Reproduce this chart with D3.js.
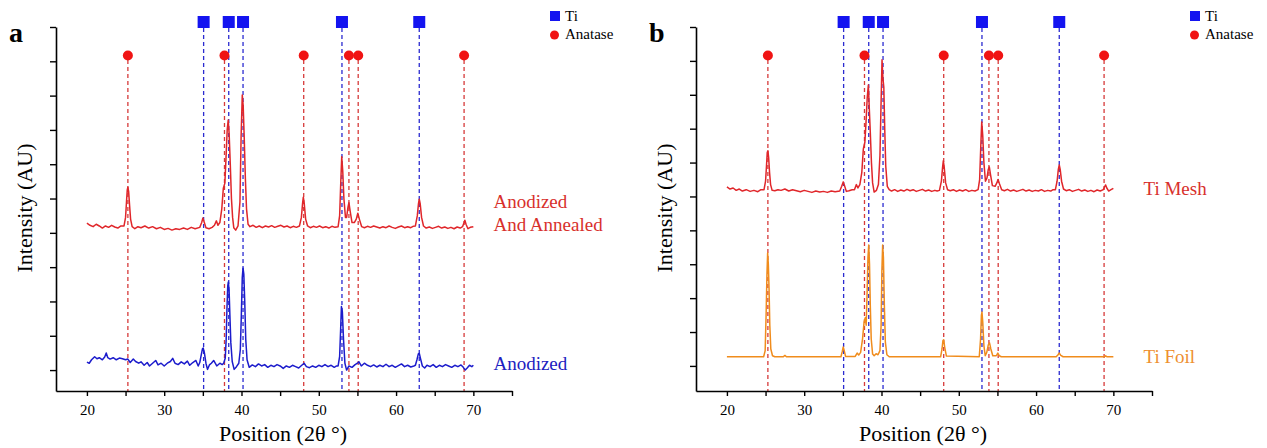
<!DOCTYPE html>
<html>
<head>
<meta charset="utf-8">
<script src="https://cdn.jsdelivr.net/npm/d3@7"></script>
<style>
  body { margin: 0; background: #fff; }
  text { font-family: "Liberation Serif", "Times New Roman", serif; }
</style>
</head>
<body>
<div id="plot"></div>
<script>
// Reference peak positions (2 theta)
var tiPeaks = [35.1, 38.35, 40.2, 53.0, 63.0];
var anatasePeaks = [25.3, 37.8, 48.05, 53.9, 55.1, 68.8];

// Axis ticks
var xTicks = [20, 25, 30, 35, 40, 45, 50, 55, 60, 65, 70, 75];
var xTickLabels = [20, 30, 40, 50, 60, 70];
var yTicks = [0, 1, 2, 3, 4, 5, 6, 7, 8, 9, 10];

// Panel a: anodized (blue) in tick units
var anodized = [
  [20,0.23],[20.3,0.2],[20.6,0.3],[21,0.39],[21.3,0.33],[21.6,0.36],[22,0.3],[22.3,0.38],[22.5,0.5],[22.7,0.36],
  [23,0.32],[23.4,0.36],[23.8,0.3],[24.2,0.35],[24.6,0.33],[25,0.3],[25.3,0.32],[25.6,0.22],[26,0.32],[26.3,0.25],
  [26.7,0.2],[27,0.24],[27.4,0.14],[27.8,0.22],[28.1,0.12],[28.5,0.2],[28.9,0.28],[29.2,0.15],[29.6,0.2],[30,0.12],
  [30.4,0.2],[30.8,0.25],[31.1,0.34],[31.4,0.2],[31.8,0.16],[32.2,0.24],[32.6,0.18],[33,0.26],[33.3,0.14],[33.7,0.22],
  [34.1,0.28],[34.4,0.12],[34.6,0.22],[34.8,0.45],[34.95,0.62],[35.05,0.64],[35.2,0.5],[35.4,0.2],[35.6,0.02],[35.85,0.15],
  [36.1,0.2],[36.4,0.28],[36.8,0.12],[37.2,0.2],[37.5,0.16],[37.7,0.2],[37.9,0.35],[38.02,0.9],[38.12,1.8],[38.22,2.45],
  [38.3,2.57],[38.4,2.3],[38.5,1.6],[38.62,0.8],[38.8,0.25],[39.05,0.02],[39.35,0.1],[39.65,0.2],[39.85,0.6],[39.98,1.6],
  [40.1,2.7],[40.2,2.97],[40.3,2.8],[40.42,2.0],[40.55,0.9],[40.72,0.3],[41,0.08],
  [41.4,0.15],[41.8,0.1],[42.2,0.18],[42.6,0.12],[43,0.16],[43.4,0.08],[43.8,0.14],[44.2,0.1],[44.6,0.16],[45,0.12],
  [45.4,0.05],[45.8,0.12],[46.2,0.08],[46.6,0.14],[47,0.1],[47.4,0.06],[47.8,0.14],[48.1,0.2],[48.4,0.1],[48.8,0.07],
  [49.2,0.12],[49.6,0.08],[50,0.14],[50.4,0.1],[50.8,0.16],[51.2,0.1],[51.6,0.14],[52,0.08],[52.3,0.12],[52.5,0.12],
  [52.7,0.4],[52.83,1.2],[52.93,1.85],[53.05,1.7],[53.2,0.9],[53.38,0.2],[53.6,0.0],[53.9,0.12],[54.3,0.08],[54.7,0.16],
  [55.0,0.2],[55.2,0.24],[55.5,0.12],[55.9,0.2],[56.3,0.14],[56.7,0.1],[57.1,0.15],[57.5,0.09],[57.9,0.14],[58.3,0.1],
  [58.7,0.17],[59.1,0.1],[59.5,0.14],[59.9,0.08],[60.3,0.13],[60.7,0.18],[61.1,0.1],[61.5,0.14],[61.9,0.09],[62.3,0.12],
  [62.5,0.14],[62.7,0.3],[62.88,0.47],[63.0,0.49],[63.15,0.35],[63.4,0.12],[63.7,0.06],[64,0.14],[64.4,0.1],[64.8,0.16],
  [65.2,0.08],[65.6,0.14],[66,0.1],[66.4,0.16],[66.8,0.12],[67.2,0.08],[67.6,0.14],[68,0.1],[68.4,0.15],[68.7,0.08],
  [68.95,0.0],[69.2,0.06],[69.5,0.14],[69.8,0.1],[70,0.14]
];

// Panel a: anodized and annealed (red)
var anodizedAnnealed = [
  [20,4.28],[20.4,4.22],[20.8,4.18],[21.2,4.25],[21.6,4.2],[22,4.14],[22.4,4.2],[22.8,4.16],[23.2,4.22],[23.6,4.17],
  [24,4.14],[24.4,4.2],[24.8,4.2],[25.0,4.45],[25.12,4.9],[25.22,5.25],[25.3,5.33],[25.4,5.2],[25.52,4.8],[25.65,4.4],
  [25.85,4.18],[26.2,4.12],[26.6,4.18],[27,4.15],[27.5,4.2],[28,4.14],[28.5,4.18],[29,4.12],[29.5,4.16],[30,4.1],
  [30.5,4.13],[31,4.08],[31.5,4.12],[32,4.1],[32.5,4.14],[33,4.1],[33.5,4.16],[34,4.12],[34.6,4.16],[34.85,4.3],
  [35.0,4.43],[35.15,4.33],[35.4,4.15],[35.8,4.12],[36.2,4.16],[36.5,4.22],[36.75,4.35],[36.95,4.22],[37.2,4.3],[37.45,4.7],
  [37.65,5.3],[37.85,5.45],[38.0,6.2],[38.15,7.0],[38.28,7.29],[38.4,6.9],[38.55,6.0],[38.7,5.0],[38.85,4.45],[39.0,4.15],
  [39.25,4.08],[39.55,4.2],[39.8,4.9],[39.95,6.8],[40.1,8.02],[40.22,7.7],[40.35,6.8],[40.5,5.6],[40.65,4.7],[40.85,4.25],
  [41.1,4.18],[41.5,4.22],[41.9,4.16],[42.3,4.2],[42.7,4.15],[43.1,4.2],[43.5,4.17],[43.9,4.21],[44.3,4.16],[44.7,4.19],
  [45.1,4.22],[45.5,4.17],[45.9,4.2],[46.3,4.15],[46.7,4.19],[47.1,4.16],[47.5,4.2],[47.75,4.45],[47.9,4.85],[48.0,5.04],
  [48.12,4.85],[48.3,4.4],[48.55,4.2],[48.9,4.15],[49.3,4.19],[49.7,4.16],[50.1,4.2],[50.5,4.15],[50.9,4.18],[51.3,4.14],
  [51.7,4.19],[52.1,4.16],[52.5,4.18],[52.7,4.5],[52.85,5.5],[52.97,6.22],[53.1,5.8],[53.25,5.0],[53.45,4.45],[53.6,4.45],
  [53.78,4.75],[53.9,4.88],[54.05,4.65],[54.3,4.3],[54.6,4.3],[54.85,4.4],[55.05,4.57],[55.25,4.4],[55.55,4.18],[55.9,4.15],
  [56.3,4.19],[56.7,4.16],[57.1,4.2],[57.5,4.17],[57.9,4.14],[58.3,4.18],[58.7,4.15],[59.1,4.2],[59.5,4.16],[59.9,4.13],
  [60.3,4.17],[60.7,4.2],[61.1,4.15],[61.5,4.18],[61.9,4.15],[62.2,4.19],[62.5,4.2],[62.75,4.5],[62.9,4.85],[63.0,4.98],
  [63.12,4.85],[63.3,4.45],[63.55,4.2],[63.9,4.14],[64.3,4.17],[64.7,4.13],[65.1,4.16],[65.5,4.19],[65.9,4.14],[66.3,4.17],
  [66.7,4.13],[67.1,4.16],[67.5,4.12],[67.9,4.17],[68.3,4.14],[68.6,4.18],[68.8,4.3],[68.9,4.37],[69.05,4.25],[69.3,4.12],
  [69.6,4.16],[70,4.18]
];

// Panel b: Ti mesh (red)
var tiMesh = [
  [20,5.28],[20.4,5.22],[20.8,5.25],[21.2,5.18],[21.6,5.22],[22,5.16],[22.5,5.2],[23,5.15],[23.5,5.18],[24,5.14],
  [24.4,5.2],[24.8,5.2],[25.0,5.45],[25.12,5.9],[25.22,6.3],[25.3,6.35],[25.4,6.15],[25.52,5.7],[25.65,5.35],[25.85,5.18],
  [26.2,5.17],[26.6,5.2],[27,5.18],[27.5,5.22],[28,5.16],[28.5,5.2],[29,5.17],[29.5,5.14],[30,5.18],[30.5,5.15],
  [31,5.12],[31.5,5.16],[32,5.13],[32.5,5.15],[33,5.12],[33.5,5.16],[34,5.14],[34.6,5.16],[34.85,5.3],[35.05,5.43],
  [35.2,5.33],[35.45,5.15],[35.8,5.17],[36.2,5.2],[36.5,5.2],[36.75,5.35],[36.95,5.25],[37.2,5.35],[37.45,5.7],[37.65,6.4],
  [37.85,6.6],[38.0,7.2],[38.15,7.9],[38.3,8.29],[38.42,7.6],[38.55,6.9],[38.7,6.0],[38.85,5.4],[39.05,5.13],[39.35,5.18],
  [39.6,5.35],[39.8,6.2],[39.95,7.8],[40.07,9.03],[40.18,8.5],[40.3,8.23],[40.42,7.0],[40.55,5.9],[40.75,5.3],[41.0,5.2],
  [41.3,5.16],[41.7,5.2],[42.1,5.15],[42.5,5.19],[42.9,5.16],[43.3,5.21],[43.7,5.17],[44.1,5.2],[44.5,5.15],[44.9,5.18],
  [45.3,5.21],[45.7,5.16],[46.1,5.19],[46.5,5.15],[46.9,5.18],[47.2,5.16],[47.5,5.18],[47.75,5.45],[47.9,5.85],[48.0,6.05],
  [48.12,5.85],[48.3,5.4],[48.55,5.2],[48.9,5.17],[49.3,5.2],[49.7,5.15],[50.1,5.19],[50.5,5.16],[50.9,5.2],[51.3,5.15],
  [51.7,5.18],[52.1,5.16],[52.5,5.2],[52.7,5.5],[52.85,6.5],[52.97,7.2],[53.1,6.8],[53.25,6.0],[53.45,5.45],[53.65,5.55],
  [53.82,5.8],[53.95,5.87],[54.1,5.65],[54.35,5.32],[54.7,5.3],[54.92,5.4],[55.08,5.5],[55.25,5.38],[55.55,5.2],[55.9,5.17],
  [56.3,5.21],[56.7,5.16],[57.1,5.19],[57.5,5.15],[57.9,5.18],[58.3,5.21],[58.7,5.16],[59.1,5.19],[59.5,5.15],[59.9,5.18],
  [60.3,5.16],[60.7,5.2],[61.1,5.15],[61.5,5.18],[61.9,5.16],[62.2,5.2],[62.5,5.2],[62.72,5.45],[62.88,5.8],[63.0,5.93],
  [63.12,5.8],[63.3,5.45],[63.55,5.22],[63.9,5.17],[64.3,5.2],[64.7,5.15],[65.1,5.18],[65.5,5.21],[65.9,5.16],[66.3,5.19],
  [66.7,5.15],[67.1,5.18],[67.5,5.14],[67.9,5.19],[68.3,5.16],[68.7,5.2],[68.9,5.3],[69.0,5.34],[69.15,5.25],[69.4,5.16],
  [69.7,5.2],[70,5.24]
];

// Panel b: Ti foil (orange)
var tiFoil = [
  [20,0.27],[24.75,0.27],[24.95,0.45],[25.08,1.6],[25.18,2.7],[25.27,3.33],[25.36,3.0],[25.45,2.3],[25.55,1.2],[25.68,0.5],
  [25.9,0.3],[26.2,0.27],[27.3,0.27],[27.5,0.31],[27.7,0.27],[34.75,0.27],[34.92,0.42],[35.05,0.56],[35.18,0.45],[35.35,0.28],
  [36.6,0.28],[36.85,0.38],[37.05,0.32],[37.3,0.4],[37.55,0.8],[37.75,1.3],[37.9,1.42],[38.02,1.2],[38.12,2.0],[38.25,3.2],
  [38.35,3.57],[38.45,3.0],[38.55,1.8],[38.67,0.8],[38.85,0.35],[39.05,0.3],[39.3,0.36],[39.55,0.33],[39.8,0.45],[39.95,1.2],
  [40.05,2.8],[40.15,3.57],[40.25,3.2],[40.37,1.8],[40.5,0.7],[40.7,0.33],[41.0,0.27],[47.65,0.27],[47.83,0.5],[47.95,0.75],
  [48.05,0.77],[48.18,0.55],[48.4,0.29],[52.65,0.27],[52.82,0.8],[52.93,1.5],[53.0,1.59],[53.1,1.3],[53.25,0.6],[53.42,0.3],
  [53.62,0.4],[53.82,0.62],[53.98,0.68],[54.15,0.5],[54.4,0.3],[54.85,0.3],[55.05,0.38],[55.25,0.3],[55.5,0.27],[62.6,0.27],
  [62.85,0.33],[63.0,0.38],[63.2,0.31],[63.5,0.27],[68.8,0.27],[69.0,0.3],[69.2,0.27],[70,0.27]
];

var panels = [
  { letter: "a", yMin: -0.61, series: [
      { data: anodizedAnnealed, color: "#e0262a", labelColor: "#d8302c",
        label: ["Anodized", "And Annealed"], labelX: 72.6, labelY: [4.72, 4.05] },
      { data: anodized, color: "#1c1ccc", labelColor: "#2020c0",
        label: ["Anodized"], labelX: 72.6, labelY: [0.0] }
  ]},
  { letter: "b", yMin: -0.74, series: [
      { data: tiMesh, color: "#e0262a", labelColor: "#d8302c",
        label: ["Ti Mesh"], labelX: 73.9, labelY: [5.04] },
      { data: tiFoil, color: "#f08c1c", labelColor: "#ee9030",
        label: ["Ti Foil"], labelX: 73.9, labelY: [0.09] }
  ]}
];

var svgW = 1267, svgH = 448, panelW = 640;
var plotLeft = 56, plotRight = 512, plotTop = 27, plotBottom = 391;
var serif = '"Liberation Serif", "Times New Roman", serif';

var svg = d3.select("#plot").append("svg")
    .attr("width", svgW)
    .attr("height", svgH);

panels.forEach(function(p, i) {
  var g = svg.append("g").attr("transform", "translate(" + (i * panelW) + ",0)");

  var x = d3.scaleLinear().domain([16, 75]).range([plotLeft, plotRight]);
  var y = d3.scaleLinear().domain([p.yMin, 10]).range([plotBottom, plotTop]);

  // Reference lines
  g.selectAll(".ti-line").data(tiPeaks).enter().append("line")
      .attr("x1", function(d) { return x(d); }).attr("x2", function(d) { return x(d); })
      .attr("y1", 28).attr("y2", plotBottom)
      .attr("stroke", "#2b2bd0").attr("stroke-width", 1.3)
      .attr("stroke-dasharray", "4,3");
  g.selectAll(".an-line").data(anatasePeaks).enter().append("line")
      .attr("x1", function(d) { return x(d); }).attr("x2", function(d) { return x(d); })
      .attr("y1", 60).attr("y2", plotBottom)
      .attr("stroke", "#d63a3a").attr("stroke-width", 1.3)
      .attr("stroke-dasharray", "4,3");

  // Patterns
  var line = d3.line()
      .x(function(d) { return x(d[0]); })
      .y(function(d) { return y(d[1]); });

  p.series.forEach(function(s) {
    g.append("path")
        .datum(s.data)
        .attr("fill", "none")
        .attr("stroke", s.color)
        .attr("stroke-width", 1.5)
        .attr("stroke-linejoin", "round")
        .attr("d", line);

    s.label.forEach(function(t, k) {
      g.append("text")
          .attr("x", x(s.labelX))
          .attr("y", y(s.labelY[k]))
          .attr("fill", s.labelColor)
          .style("font-size", "19px")
          .text(t);
    });
  });

  // Peak markers
  g.selectAll(".ti-mark").data(tiPeaks).enter().append("rect")
      .attr("x", function(d) { return x(d) - 6; })
      .attr("y", 16).attr("width", 12).attr("height", 12)
      .attr("fill", "#1414f0");
  g.selectAll(".an-mark").data(anatasePeaks).enter().append("circle")
      .attr("cx", function(d) { return x(d); })
      .attr("cy", 55.5).attr("r", 5)
      .attr("fill", "#f01414");

  // Axes
  var xAxis = g.append("g")
      .attr("transform", "translate(0," + plotBottom + ")")
      .call(d3.axisBottom(x)
        .tickValues(xTicks)
        .tickSize(5)
        .tickSizeOuter(0)
        .tickPadding(8)
        .tickFormat(function(d) { return xTickLabels.indexOf(d) >= 0 ? d : ""; }));
  xAxis.attr("font-family", null).attr("font-size", null);
  xAxis.selectAll("text")
      .style("font-family", serif)
      .style("font-size", "15px")
      .attr("fill", "#000");

  var yAxis = g.append("g")
      .attr("transform", "translate(" + plotLeft + ",0)")
      .call(d3.axisLeft(y)
        .tickValues(yTicks)
        .tickSize(6)
        .tickSizeOuter(0)
        .tickFormat(""));

  [xAxis, yAxis].forEach(function(a) {
    a.select(".domain").attr("stroke", "#000").attr("stroke-width", 1.6);
    a.selectAll(".tick line").attr("stroke", "#000").attr("stroke-width", 1.4);
  });

  // Axis titles
  g.append("text")
      .attr("transform", "rotate(-90)")
      .attr("x", -208)
      .attr("y", 32)
      .attr("text-anchor", "middle")
      .style("font-size", "22px")
      .text("Intensity (AU)");

  g.append("text")
      .attr("x", 283)
      .attr("y", 441)
      .attr("text-anchor", "middle")
      .style("font-size", "22px")
      .text("Position (2θ °)");

  // Panel letter
  g.append("text")
      .attr("x", 9)
      .attr("y", 42)
      .attr("font-weight", "bold")
      .style("font-size", "28px")
      .text(p.letter);

  // Legend
  g.append("rect")
      .attr("x", 550).attr("y", 11).attr("width", 10).attr("height", 10)
      .attr("fill", "#1414f0");
  g.append("text")
      .attr("x", 565).attr("y", 21)
      .style("font-size", "15px")
      .text("Ti");
  g.append("circle")
      .attr("cx", 554.5).attr("cy", 35).attr("r", 4.5)
      .attr("fill", "#f01414");
  g.append("text")
      .attr("x", 565).attr("y", 39)
      .style("font-size", "15px")
      .text("Anatase");
});
</script>
</body>
</html>
